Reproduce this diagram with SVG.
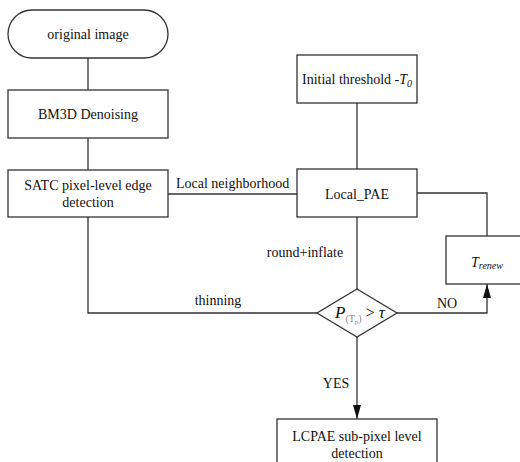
<svg xmlns="http://www.w3.org/2000/svg" width="520" height="462" viewBox="0 0 520 462">
<defs>
<style>
.box{fill:#fff;stroke:#333;stroke-width:1.3}
.ln{fill:none;stroke:#333;stroke-width:1.3}
text{font-size:14px;fill:#111}
.c{text-anchor:middle}
.i{font-style:italic}
</style>
<marker id="arr" viewBox="0 0 14 8" refX="14" refY="4" markerWidth="14" markerHeight="8" markerUnits="userSpaceOnUse" orient="auto">
<path d="M0,0 L14,4 L0,8 Z" fill="#111"/>
</marker>
</defs>
<rect width="520" height="462" fill="#fff"/>
<g font-family="'Liberation Serif', 'DejaVu Serif', serif">
<g id="connectors">
<path class="ln" d="M88,58 V90"/>
<path class="ln" d="M88,138 V170"/>
<path class="ln" d="M168,194 H297"/>
<path class="ln" d="M357,103 V169"/>
<path class="ln" d="M357,217 V289"/>
<path class="ln" d="M417,193 H487 V236"/>
<path class="ln" d="M88,217 V313 H317"/>
<path class="ln" d="M397,313 H487 V284" marker-end="url(#arr)"/>
<path class="ln" d="M357,337 V419" marker-end="url(#arr)"/>
<text x="176" y="188">Local neighborhood</text>
<text x="305" y="257" class="c">round+inflate</text>
<text x="218" y="305" class="c">thinning</text>
<text x="447" y="308" class="c">NO</text>
<text x="336" y="388" class="c">YES</text>
</g>
<g id="start">
<rect class="box" x="8" y="10" width="160" height="48" rx="24" ry="24"/>
<text x="88" y="39" class="c">original image</text>
</g>
<g id="bm3d">
<rect class="box" x="8" y="90" width="160" height="48"/>
<text x="88" y="119" class="c">BM3D Denoising</text>
</g>
<g id="satc">
<rect class="box" x="8" y="170" width="160" height="47"/>
<text x="88" y="190" class="c">SATC pixel-level edge</text>
<text x="88" y="207" class="c">detection</text>
</g>
<g id="threshold">
<rect class="box" x="297" y="55" width="120" height="48"/>
<text x="357" y="84" class="c">Initial threshold -<tspan class="i">T</tspan><tspan class="i" font-size="10" dy="3">0</tspan></text>
</g>
<g id="localpae">
<rect class="box" x="297" y="169" width="120" height="48"/>
<text x="357" y="199" class="c">Local_PAE</text>
</g>
<g id="trenew">
<rect class="box" x="446" y="236" width="82" height="48"/>
<text x="487" y="267" class="c"><tspan class="i">T</tspan><tspan class="i" font-size="10" dy="2">renew</tspan></text>
</g>
<g id="decision">
<path class="box" d="M357,289 L397,313 L357,337 L317,313 Z"/>
<text x="335" y="318"><tspan class="i" font-size="17">P</tspan><tspan font-size="10" fill="#888" dy="4">(T</tspan><tspan font-size="7" fill="#888" dy="2">p</tspan><tspan font-size="10" fill="#888" dy="-2">)</tspan><tspan font-size="16" dy="-4"> &gt; </tspan><tspan class="i" font-size="17">τ</tspan></text>
</g>
<g id="lcpae">
<rect class="box" x="277" y="419" width="160" height="60"/>
<text x="357" y="441" class="c">LCPAE sub-pixel level</text>
<text x="357" y="458" class="c">detection</text>
</g>
</g>
</svg>
